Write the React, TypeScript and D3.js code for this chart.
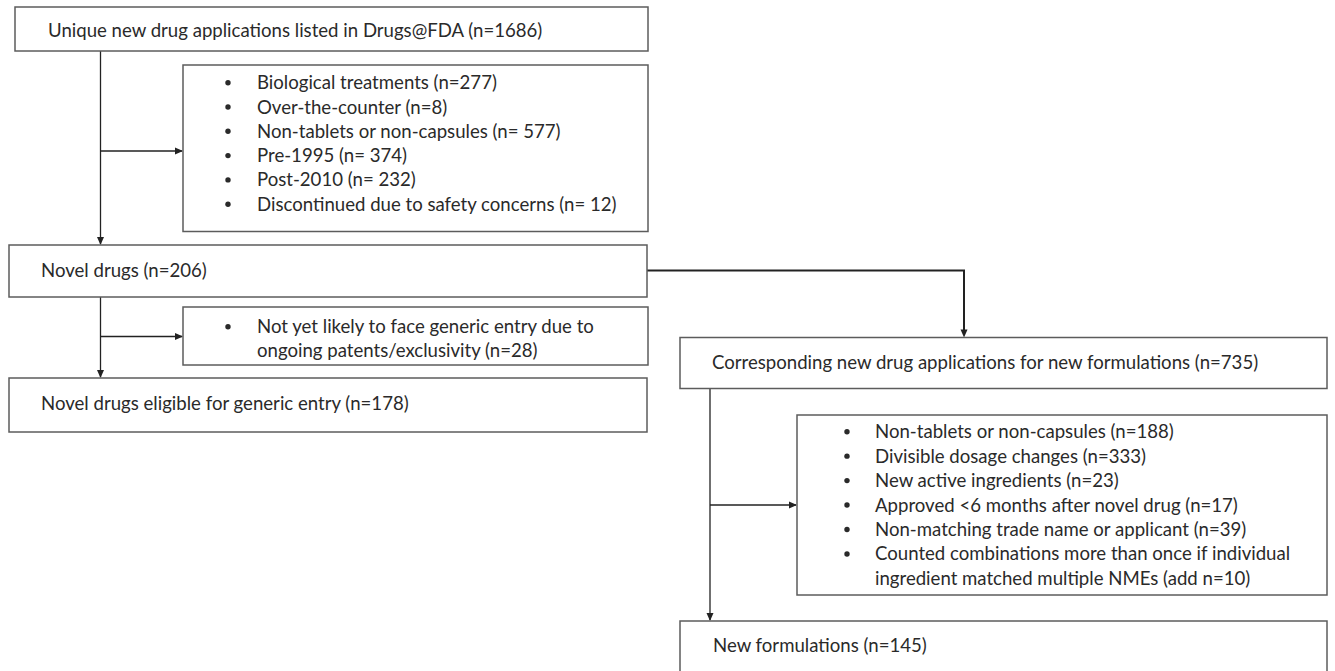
import React from 'react';
import * as d3 from 'd3';

// flowchart content
const startLabel = 'Unique new drug applications listed in Drugs@FDA (n=1686)';
const firstExclusions = [
  'Biological treatments (n=277)',
  'Over-the-counter (n=8)',
  'Non-tablets or non-capsules (n= 577)',
  'Pre-1995 (n= 374)',
  'Post-2010 (n= 232)',
  'Discontinued due to safety concerns (n= 12)',
];
const novelLabel = 'Novel drugs (n=206)';
const secondExclusions = [
  'Not yet likely to face generic entry due to',
  'ongoing patents/exclusivity (n=28)',
];
const secondBullets = [true, false];
const eligibleLabel = 'Novel drugs eligible for generic entry (n=178)';
const correspondingLabel = 'Corresponding new drug applications for new formulations (n=735)';
const thirdExclusions = [
  'Non-tablets or non-capsules (n=188)',
  'Divisible dosage changes (n=333)',
  'New active ingredients (n=23)',
  'Approved <6 months after novel drug (n=17)',
  'Non-matching trade name or applicant (n=39)',
  'Counted combinations more than once if individual',
  'ingredient matched multiple NMEs (add n=10)',
];
const thirdBullets = [true, true, true, true, true, true, false];
const finalLabel = 'New formulations (n=145)';

const W = 1335;
const H = 671;
const FONT = 'Lato, "Open Sans", sans-serif';
const FS = 18.6;
const TXT = '#2a2a2a';
const BORDER = '#5c5c5c';
const LINE = '#222';

function Box({ x, y, w, h }: { x: number; y: number; w: number; h: number }) {
  return <rect x={x} y={y} width={w} height={h} fill="#fff" stroke={BORDER} strokeWidth={1.5} />;
}

function Label({ x, y, text }: { x: number; y: number; text: string }) {
  return (
    <text x={x} y={y} dy="0.35em" fontFamily={FONT} fontSize={FS} fill={TXT}>
      {text}
    </text>
  );
}

function BulletList({ items, bullets, bx, tx, y0, step }: {
  items: string[]; bullets: boolean[]; bx: number; tx: number; y0: number; step: number;
}) {
  const y = d3.scaleLinear().domain([0, 1]).range([y0, y0 + step]);
  return (
    <g>
      {items.map((t, i) => (
        <g key={i}>
          {bullets[i] && <circle cx={bx} cy={y(i)} r={2.7} fill={TXT} />}
          <Label x={tx} y={y(i)} text={t} />
        </g>
      ))}
    </g>
  );
}

export default function App() {
  const line = d3.line();
  const arrow = (x: number, y: number, dir: 'down' | 'right') =>
    dir === 'down'
      ? `M${x - 3.5},${y - 8}L${x + 3.5},${y - 8}L${x},${y}Z`
      : `M${x - 8},${y - 3.5}L${x - 8},${y + 3.5}L${x},${y}Z`;

  return (
    <svg width={W} height={H} style={{ position: 'absolute', left: 0, top: 0, background: '#fff' }}>
      {/* connectors */}
      <g stroke={LINE} strokeWidth={1.3} fill="none">
        <path d={line([[100.5, 51], [100.5, 244]])!} />
        <path d={line([[100.5, 151], [182, 151]])!} />
        <path d={line([[100.5, 297], [100.5, 377]])!} />
        <path d={line([[100.5, 336.5], [182, 336.5]])!} />
        <path d={line([[710, 389], [710, 620]])!} />
        <path d={line([[710, 505], [796, 505]])!} />
        <path d={line([[647, 270.5], [964, 270.5], [964, 335]])!} strokeWidth={2} />
      </g>
      <g fill={LINE}>
        <path d={arrow(100.5, 245, 'down')} />
        <path d={arrow(183, 151, 'right')} />
        <path d={arrow(100.5, 378, 'down')} />
        <path d={arrow(183, 336.5, 'right')} />
        <path d={arrow(964, 337.5, 'down')} />
        <path d={arrow(710, 621, 'down')} />
        <path d={arrow(797, 505, 'right')} />
      </g>

      <Box x={15} y={7} w={633} h={44} />
      <Label x={48} y={30} text={startLabel} />

      <Box x={183} y={65} w={465} h={166.5} />
      <BulletList items={firstExclusions} bullets={firstExclusions.map(() => true)} bx={228} tx={257} y0={82.7} step={24.3} />

      <Box x={9} y={245} w={638} h={52} />
      <Label x={41} y={270} text={novelLabel} />

      <Box x={183} y={307} w={465} h={58} />
      <BulletList items={secondExclusions} bullets={secondBullets} bx={228} tx={257} y0={326.7} step={23.4} />

      <Box x={9} y={378} w={638} h={54} />
      <Label x={41} y={403} text={eligibleLabel} />

      <Box x={680} y={337.5} w={647} h={51} />
      <Label x={712} y={362} text={correspondingLabel} />

      <Box x={797} y={415} w={530} h={180} />
      <BulletList items={thirdExclusions} bullets={thirdBullets} bx={847} tx={875} y0={431.7} step={24.45} />

      <Box x={680} y={621} w={647} h={60} />
      <Label x={713} y={645} text={finalLabel} />
    </svg>
  );
}
